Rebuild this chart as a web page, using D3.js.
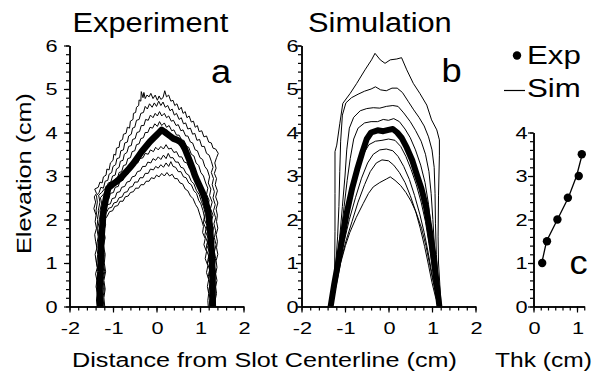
<!DOCTYPE html>
<html><head><meta charset="utf-8">
<script src="https://cdn.jsdelivr.net/npm/d3@7"></script>
<style>
html,body{margin:0;padding:0;background:#fff;}
svg{display:block;}
text{font-family:'Liberation Sans',Arial,Helvetica,sans-serif;fill:#000;}
</style></head>
<body><svg id="chart" width="592" height="373"></svg>
<script>
// ---------- Panel a: experimental profiles (x cm, elevation cm) ----------
const expThick = [[-1.30,0],[-1.31,0.4],[-1.29,0.8],[-1.28,1.2],[-1.26,1.64],[-1.22,2.18],[-1.16,2.5],[-1.11,2.72],[-1.02,2.8],[-0.92,2.87],[-0.82,2.96],[-0.73,3.06],[-0.63,3.17],[-0.53,3.29],[-0.44,3.42],[-0.34,3.56],[-0.25,3.67],[-0.15,3.79],[-0.07,3.87],[0.0,3.94],[0.06,4.0],[0.12,4.06],[0.18,4.02],[0.23,3.98],[0.31,3.92],[0.39,3.86],[0.47,3.83],[0.54,3.79],[0.6,3.72],[0.65,3.63],[0.71,3.48],[0.77,3.33],[0.83,3.17],[0.88,3.02],[0.94,2.88],[1.0,2.75],[1.06,2.62],[1.11,2.48],[1.15,2.33],[1.19,2.18],[1.21,1.98],[1.23,1.79],[1.25,1.52],[1.27,1.26],[1.28,0.95],[1.29,0.65],[1.29,0.3],[1.29,0]];
const exp1 = [[-1.36,0],[-1.38,0.15],[-1.35,0.3],[-1.39,0.45],[-1.37,0.6],[-1.4,0.75],[-1.36,0.9],[-1.39,1.05],[-1.41,1.2],[-1.37,1.35],[-1.4,1.5],[-1.42,1.65],[-1.38,1.8],[-1.41,1.95],[-1.39,2.1],[-1.44,2.25],[-1.4,2.4],[-1.43,2.52],[-1.38,2.6],[-1.42,2.7],[-1.34,2.74],[-1.3,2.86],[-1.25,2.84],[-1.22,2.98],[-1.16,3.02],[-1.14,3.16],[-1.09,3.14],[-1.06,3.3],[-1.0,3.36],[-0.98,3.5],[-0.94,3.48],[-0.92,3.64],[-0.86,3.66],[-0.84,3.8],[-0.78,3.84],[-0.76,3.96],[-0.7,3.98],[-0.67,4.12],[-0.62,4.1],[-0.6,4.26],[-0.54,4.3],[-0.53,4.44],[-0.48,4.46],[-0.46,4.58],[-0.41,4.62],[-0.4,4.75],[-0.36,4.72],[-0.35,4.94],[-0.31,4.8],[-0.29,4.92],[-0.26,4.78],[-0.22,4.86],[-0.17,4.82],[-0.13,4.9],[-0.08,4.78],[-0.03,4.86],[0.02,4.74],[0.06,4.84],[0.1,4.76],[0.15,4.8],[0.19,4.96],[0.23,4.82],[0.28,4.86],[0.33,4.72],[0.38,4.74],[0.42,4.62],[0.47,4.66],[0.52,4.52],[0.57,4.58],[0.61,4.44],[0.66,4.48],[0.7,4.34],[0.75,4.38],[0.8,4.24],[0.85,4.26],[0.89,4.12],[0.94,4.16],[0.98,4.02],[1.04,4.04],[1.09,3.9],[1.15,3.92],[1.2,3.78],[1.26,3.76],[1.3,3.64],[1.36,3.62],[1.42,3.52],[1.38,3.42],[1.34,3.3],[1.37,3.18],[1.33,3.06],[1.38,2.94],[1.35,2.8],[1.4,2.66],[1.36,2.52],[1.41,2.38],[1.37,2.24],[1.4,2.1],[1.38,1.95],[1.41,1.8],[1.37,1.65],[1.4,1.5],[1.38,1.35],[1.41,1.2],[1.37,1.05],[1.39,0.9],[1.36,0.75],[1.39,0.6],[1.36,0.45],[1.38,0.3],[1.35,0.15],[1.36,0]];
const exp2 = [[-1.34,0],[-1.36,0.2],[-1.33,0.4],[-1.37,0.6],[-1.34,0.8],[-1.38,1.0],[-1.35,1.2],[-1.38,1.4],[-1.34,1.6],[-1.37,1.8],[-1.35,2.0],[-1.39,2.2],[-1.36,2.4],[-1.38,2.55],[-1.32,2.62],[-1.28,2.74],[-1.22,2.72],[-1.18,2.88],[-1.12,2.9],[-1.09,3.04],[-1.03,3.08],[-1.0,3.22],[-0.94,3.26],[-0.91,3.4],[-0.85,3.42],[-0.82,3.58],[-0.76,3.6],[-0.73,3.76],[-0.67,3.78],[-0.64,3.92],[-0.58,3.96],[-0.55,4.1],[-0.5,4.12],[-0.46,4.28],[-0.4,4.3],[-0.36,4.44],[-0.3,4.46],[-0.26,4.6],[-0.21,4.54],[-0.16,4.66],[-0.1,4.58],[-0.05,4.68],[0.0,4.6],[0.05,4.72],[0.1,4.62],[0.15,4.7],[0.2,4.58],[0.26,4.62],[0.31,4.5],[0.36,4.54],[0.41,4.4],[0.46,4.44],[0.52,4.3],[0.57,4.34],[0.62,4.2],[0.67,4.22],[0.72,4.08],[0.78,4.1],[0.83,3.96],[0.88,3.98],[0.93,3.82],[0.99,3.84],[1.04,3.68],[1.1,3.68],[1.15,3.52],[1.21,3.48],[1.26,3.34],[1.3,3.2],[1.26,3.08],[1.31,2.94],[1.28,2.8],[1.33,2.64],[1.3,2.5],[1.35,2.34],[1.31,2.2],[1.36,2.04],[1.32,1.9],[1.36,1.74],[1.33,1.58],[1.37,1.42],[1.33,1.26],[1.36,1.1],[1.33,0.94],[1.36,0.78],[1.33,0.62],[1.35,0.46],[1.32,0.3],[1.34,0.14],[1.34,0]];
const exp3 = [[-1.32,0],[-1.34,0.2],[-1.31,0.4],[-1.34,0.6],[-1.3,0.8],[-1.33,1.0],[-1.31,1.2],[-1.35,1.4],[-1.32,1.6],[-1.35,1.8],[-1.31,2.0],[-1.34,2.2],[-1.3,2.4],[-1.33,2.56],[-1.26,2.62],[-1.2,2.7],[-1.15,2.68],[-1.11,2.84],[-1.05,2.86],[-1.01,3.0],[-0.95,3.02],[-0.92,3.16],[-0.86,3.2],[-0.83,3.34],[-0.77,3.36],[-0.74,3.5],[-0.68,3.54],[-0.64,3.68],[-0.58,3.7],[-0.55,3.84],[-0.49,3.86],[-0.45,4.0],[-0.39,4.02],[-0.35,4.16],[-0.29,4.16],[-0.25,4.3],[-0.19,4.28],[-0.14,4.4],[-0.08,4.34],[-0.03,4.44],[0.02,4.38],[0.07,4.48],[0.12,4.38],[0.18,4.44],[0.23,4.34],[0.28,4.38],[0.34,4.26],[0.39,4.28],[0.45,4.16],[0.5,4.18],[0.56,4.04],[0.61,4.06],[0.67,3.92],[0.72,3.92],[0.78,3.78],[0.83,3.76],[0.89,3.6],[0.94,3.58],[1.0,3.42],[1.06,3.38],[1.11,3.22],[1.17,3.14],[1.22,2.98],[1.19,2.84],[1.25,2.7],[1.22,2.55],[1.28,2.4],[1.24,2.25],[1.3,2.1],[1.26,1.95],[1.31,1.8],[1.28,1.64],[1.32,1.48],[1.29,1.32],[1.33,1.16],[1.3,1.0],[1.33,0.84],[1.3,0.68],[1.33,0.52],[1.3,0.36],[1.32,0.2],[1.31,0]];
const exp4 = [[-1.29,0],[-1.31,0.2],[-1.28,0.4],[-1.31,0.6],[-1.27,0.8],[-1.3,1.0],[-1.28,1.2],[-1.32,1.4],[-1.28,1.6],[-1.31,1.8],[-1.27,2.0],[-1.3,2.2],[-1.26,2.38],[-1.29,2.5],[-1.22,2.58],[-1.16,2.64],[-1.11,2.62],[-1.07,2.76],[-1.0,2.8],[-0.96,2.92],[-0.9,2.94],[-0.86,3.08],[-0.8,3.1],[-0.76,3.24],[-0.7,3.26],[-0.66,3.4],[-0.6,3.42],[-0.56,3.56],[-0.5,3.58],[-0.46,3.72],[-0.4,3.74],[-0.36,3.86],[-0.3,3.88],[-0.26,4.0],[-0.2,4.0],[-0.15,4.12],[-0.09,4.1],[-0.04,4.2],[0.02,4.14],[0.07,4.25],[0.12,4.16],[0.18,4.22],[0.23,4.12],[0.29,4.16],[0.35,4.04],[0.4,4.06],[0.46,3.94],[0.52,3.94],[0.58,3.82],[0.63,3.82],[0.69,3.68],[0.74,3.66],[0.8,3.5],[0.86,3.46],[0.91,3.3],[0.97,3.24],[1.02,3.08],[1.08,3.0],[1.13,2.84],[1.18,2.72],[1.15,2.58],[1.21,2.44],[1.18,2.3],[1.24,2.14],[1.2,2.0],[1.26,1.84],[1.23,1.68],[1.28,1.52],[1.25,1.36],[1.29,1.2],[1.26,1.04],[1.3,0.88],[1.27,0.72],[1.3,0.56],[1.27,0.4],[1.3,0.22],[1.29,0]];
const exp5 = [[-1.26,0],[-1.28,0.2],[-1.25,0.4],[-1.28,0.6],[-1.24,0.8],[-1.27,1.0],[-1.25,1.2],[-1.29,1.4],[-1.25,1.6],[-1.28,1.8],[-1.24,2.0],[-1.27,2.18],[-1.21,2.3],[-1.17,2.44],[-1.1,2.46],[-1.06,2.6],[-0.99,2.62],[-0.95,2.74],[-0.88,2.76],[-0.84,2.88],[-0.77,2.9],[-0.73,3.02],[-0.66,3.04],[-0.62,3.14],[-0.55,3.18],[-0.5,3.28],[-0.43,3.3],[-0.38,3.4],[-0.31,3.42],[-0.26,3.52],[-0.19,3.5],[-0.14,3.6],[-0.07,3.56],[-0.02,3.66],[0.04,3.6],[0.1,3.68],[0.16,3.62],[0.22,3.72],[0.28,3.62],[0.34,3.64],[0.4,3.54],[0.46,3.56],[0.52,3.44],[0.58,3.44],[0.64,3.32],[0.7,3.3],[0.76,3.16],[0.82,3.12],[0.88,2.96],[0.94,2.9],[1.0,2.74],[1.06,2.66],[1.11,2.5],[1.16,2.38],[1.13,2.24],[1.19,2.1],[1.16,1.96],[1.22,1.8],[1.19,1.64],[1.25,1.48],[1.22,1.32],[1.26,1.16],[1.23,1.0],[1.27,0.84],[1.24,0.68],[1.28,0.52],[1.25,0.36],[1.27,0.18],[1.26,0]];
const exp6 = [[-1.23,0],[-1.26,0.2],[-1.22,0.4],[-1.25,0.6],[-1.21,0.8],[-1.24,1.0],[-1.22,1.2],[-1.26,1.4],[-1.22,1.6],[-1.25,1.8],[-1.21,1.98],[-1.24,2.12],[-1.18,2.22],[-1.13,2.34],[-1.06,2.36],[-1.02,2.48],[-0.95,2.5],[-0.91,2.62],[-0.84,2.64],[-0.8,2.74],[-0.73,2.76],[-0.68,2.86],[-0.61,2.88],[-0.56,2.98],[-0.49,3.0],[-0.44,3.1],[-0.37,3.12],[-0.32,3.22],[-0.25,3.22],[-0.2,3.32],[-0.13,3.3],[-0.08,3.4],[-0.02,3.36],[0.04,3.44],[0.1,3.38],[0.16,3.48],[0.22,3.4],[0.27,3.52],[0.32,3.42],[0.38,3.42],[0.44,3.32],[0.5,3.32],[0.56,3.2],[0.62,3.18],[0.68,3.06],[0.74,3.02],[0.8,2.88],[0.86,2.82],[0.92,2.66],[0.98,2.58],[1.03,2.42],[1.08,2.3],[1.12,2.14],[1.1,2.0],[1.16,1.86],[1.13,1.72],[1.19,1.56],[1.16,1.4],[1.22,1.24],[1.19,1.08],[1.24,0.92],[1.21,0.76],[1.25,0.6],[1.22,0.44],[1.25,0.26],[1.23,0.1],[1.24,0]];
const exp7 = [[-1.21,0],[-1.23,0.2],[-1.2,0.4],[-1.23,0.6],[-1.19,0.8],[-1.22,1.0],[-1.2,1.2],[-1.24,1.4],[-1.2,1.6],[-1.23,1.78],[-1.19,1.94],[-1.21,2.06],[-1.15,2.16],[-1.1,2.26],[-1.03,2.28],[-0.98,2.38],[-0.91,2.4],[-0.86,2.5],[-0.79,2.52],[-0.74,2.62],[-0.67,2.64],[-0.62,2.74],[-0.55,2.76],[-0.5,2.86],[-0.43,2.86],[-0.38,2.96],[-0.31,2.96],[-0.26,3.06],[-0.19,3.06],[-0.14,3.16],[-0.07,3.14],[-0.02,3.22],[0.04,3.18],[0.1,3.26],[0.16,3.2],[0.22,3.3],[0.28,3.22],[0.33,3.33],[0.38,3.22],[0.44,3.2],[0.5,3.1],[0.56,3.1],[0.62,2.98],[0.68,2.96],[0.74,2.84],[0.8,2.8],[0.86,2.66],[0.92,2.6],[0.97,2.44],[1.02,2.36],[1.07,2.2],[1.1,2.06],[1.08,1.92],[1.14,1.78],[1.11,1.64],[1.17,1.48],[1.14,1.32],[1.2,1.16],[1.17,1.0],[1.22,0.84],[1.19,0.68],[1.23,0.52],[1.2,0.36],[1.23,0.18],[1.21,0]];
const exp8 = [[-1.19,0],[-1.21,0.2],[-1.18,0.4],[-1.21,0.6],[-1.17,0.8],[-1.2,1.0],[-1.18,1.2],[-1.22,1.4],[-1.18,1.58],[-1.21,1.74],[-1.17,1.88],[-1.19,2.0],[-1.13,2.08],[-1.08,2.18],[-1.01,2.2],[-0.96,2.3],[-0.89,2.32],[-0.84,2.42],[-0.77,2.42],[-0.72,2.52],[-0.65,2.54],[-0.6,2.62],[-0.53,2.64],[-0.48,2.72],[-0.41,2.72],[-0.36,2.8],[-0.29,2.8],[-0.24,2.88],[-0.17,2.88],[-0.12,2.96],[-0.05,2.94],[0.0,3.02],[0.06,2.98],[0.12,3.06],[0.18,3.0],[0.24,3.08],[0.3,3.0],[0.36,3.04],[0.42,2.94],[0.48,2.94],[0.54,2.84],[0.6,2.82],[0.66,2.7],[0.72,2.66],[0.78,2.54],[0.84,2.48],[0.9,2.34],[0.95,2.26],[1.0,2.1],[1.04,1.98],[1.08,1.84],[1.06,1.7],[1.12,1.56],[1.09,1.42],[1.15,1.26],[1.12,1.1],[1.18,0.94],[1.15,0.78],[1.2,0.62],[1.17,0.46],[1.2,0.3],[1.18,0.14],[1.19,0]];

// ---------- Panel b: simulated profiles ----------
const simThick = [[-1.33,0],[-1.25,0.5],[-1.16,1.0],[-1.06,1.6],[-0.95,2.2],[-0.84,2.7],[-0.72,3.15],[-0.6,3.55],[-0.5,3.85],[-0.4,4.0],[-0.25,4.05],[-0.12,4.03],[0.0,4.06],[0.1,4.08],[0.2,4.0],[0.3,3.88],[0.42,3.65],[0.55,3.35],[0.66,3.0],[0.76,2.7],[0.86,2.3],[0.95,1.75],[1.03,1.2],[1.1,0.6],[1.17,0]];
const sim1 = [[-1.29,0],[-1.26,0.3],[-1.24,0.65],[-1.23,1.72],[-1.23,2.6],[-1.23,3.56],[-1.19,3.71],[-1.12,4.2],[-1.05,4.67],[-0.88,4.9],[-0.73,5.13],[-0.54,5.44],[-0.39,5.67],[-0.31,5.82],[-0.19,5.67],[-0.08,5.59],[0.04,5.67],[0.19,5.69],[0.3,5.72],[0.42,5.44],[0.57,5.13],[0.72,4.9],[0.88,4.63],[0.99,4.29],[1.11,4.06],[1.17,3.83],[1.17,3.48],[1.15,2.56],[1.14,1.6],[1.15,1.0],[1.18,0.5],[1.21,0]];
const sim2 = [[-1.29,0],[-1.25,0.5],[-1.21,1.0],[-1.17,1.6],[-1.14,2.3],[-1.12,3.1],[-1.1,3.8],[-1.06,4.4],[-0.98,4.68],[-0.85,4.8],[-0.7,4.88],[-0.55,4.95],[-0.4,5.0],[-0.3,5.05],[-0.18,4.98],[-0.05,4.96],[0.08,5.02],[0.2,5.02],[0.32,4.92],[0.45,4.72],[0.58,4.52],[0.7,4.35],[0.82,4.15],[0.92,3.9],[1.0,3.6],[1.05,3.2],[1.07,2.6],[1.08,1.9],[1.1,1.2],[1.14,0.6],[1.19,0]];
const sim3 = [[-1.29,0],[-1.24,0.5],[-1.19,1.0],[-1.12,1.6],[-1.06,2.3],[-1.0,3.0],[-0.96,3.6],[-0.9,4.1],[-0.8,4.35],[-0.65,4.5],[-0.5,4.55],[-0.35,4.57],[-0.2,4.56],[-0.05,4.6],[0.1,4.62],[0.22,4.6],[0.35,4.45],[0.5,4.25],[0.62,4.05],[0.75,3.8],[0.85,3.5],[0.93,3.1],[0.98,2.6],[1.02,2.0],[1.06,1.3],[1.11,0.6],[1.18,0]];
const sim4 = [[-1.3,0],[-1.24,0.5],[-1.18,1.0],[-1.1,1.6],[-1.02,2.3],[-0.95,2.9],[-0.88,3.4],[-0.8,3.85],[-0.7,4.1],[-0.55,4.22],[-0.4,4.25],[-0.25,4.25],[-0.12,4.3],[0.0,4.28],[0.12,4.32],[0.25,4.25],[0.38,4.08],[0.5,3.88],[0.62,3.6],[0.74,3.25],[0.84,2.85],[0.92,2.35],[0.98,1.8],[1.04,1.2],[1.1,0.6],[1.17,0]];
const sim5 = [[-1.31,0],[-1.23,0.5],[-1.15,1.0],[-1.05,1.5],[-0.94,2.05],[-0.82,2.6],[-0.7,3.1],[-0.58,3.5],[-0.45,3.72],[-0.3,3.8],[-0.15,3.82],[0.0,3.85],[0.15,3.82],[0.28,3.68],[0.4,3.45],[0.52,3.15],[0.64,2.8],[0.75,2.4],[0.85,1.95],[0.93,1.45],[1.0,0.95],[1.07,0.5],[1.16,0]];
const sim6 = [[-1.31,0],[-1.22,0.5],[-1.13,1.0],[-1.02,1.5],[-0.9,2.0],[-0.76,2.5],[-0.62,2.95],[-0.48,3.3],[-0.35,3.5],[-0.2,3.6],[-0.05,3.62],[0.1,3.58],[0.22,3.45],[0.35,3.22],[0.48,2.92],[0.6,2.55],[0.72,2.12],[0.82,1.7],[0.91,1.25],[0.99,0.8],[1.07,0.4],[1.16,0]];
const sim7 = [[-1.31,0],[-1.21,0.5],[-1.11,1.0],[-0.98,1.5],[-0.84,1.95],[-0.7,2.4],[-0.55,2.8],[-0.42,3.1],[-0.28,3.3],[-0.15,3.37],[0.0,3.35],[0.12,3.25],[0.25,3.08],[0.38,2.85],[0.5,2.55],[0.62,2.2],[0.73,1.8],[0.83,1.38],[0.92,0.95],[1.0,0.55],[1.08,0.22],[1.16,0]];
const sim8 = [[-1.31,0],[-1.2,0.5],[-1.1,1.0],[-0.99,1.4],[-0.89,1.7],[-0.74,2.05],[-0.58,2.37],[-0.46,2.6],[-0.35,2.75],[-0.2,2.85],[-0.05,2.93],[0.04,2.98],[0.15,2.9],[0.28,2.78],[0.4,2.62],[0.52,2.42],[0.64,2.15],[0.76,1.8],[0.86,1.4],[0.95,0.95],[1.04,0.5],[1.11,0.18],[1.16,0]];

// ---------- Panel c: peak elevation vs thickness ----------
const thkExp = [0.2, 0.31, 0.55, 0.79, 1.04, 1.11];
const elevExp = [1.0, 1.5, 2.0, 2.5, 3.0, 3.5];
const thkSim = [0.19, 0.3, 0.55, 0.8, 0.99, 1.12];
const elevSim = [1.0, 1.5, 2.0, 2.5, 3.0, 3.5];

// ---------- Ticks and labels ----------
const profXTicks = [-2, -1, 0, 1, 2];
const profXTickLabels = ["-2", "-1", "0", "1", "2"];
const profYTicks = [0, 1, 2, 3, 4, 5, 6];
const profYTickLabels = ["0", "1", "2", "3", "4", "5", "6"];
const cXTicks = [0, 1];
const cXTickLabels = ["0", "1"];
const cYTicks = [0, 1, 2, 3, 4];
const cYTickLabels = ["0", "1", "2", "3", "4"];
const titles = ["Experiment", "Simulation"];
const panelLetters = ["a", "b", "c"];
const legendLabels = ["Exp", "Sim"];
const xLabelMain = "Distance from Slot Centerline (cm)";
const xLabelC = "Thk (cm)";
const yLabel = "Elevation (cm)";

// ---------- Drawing ----------
const svg = d3.select("#chart");
svg.append("rect").attr("width", 592).attr("height", 373).attr("fill", "#fff");

const xa = d3.scaleLinear().domain([-2, 2]).range([69.5, 243.5]);
const xb = d3.scaleLinear().domain([-2, 2]).range([301.5, 475.5]);
const yp = d3.scaleLinear().domain([0, 6]).range([306.5, 45.5]);
const xc = d3.scaleLinear().domain([0, 7 / 6]).range([533.5, 584.25]);
const yc = d3.scaleLinear().domain([0, 4]).range([306.5, 132.5]);

function txt(str, x, y, size, sx, anchor, rot) {
  svg.append("text")
    .attr("transform", `translate(${x},${y})` + (rot ? ` rotate(${rot})` : "") + ` scale(${sx},1)`)
    .attr("text-anchor", anchor)
    .style("font-size", size + "px")
    .text(str);
}

function minorVals(lo, hi, step) {
  const out = [];
  const n = Math.round((hi - lo) / step);
  for (let i = 0; i <= n; i++) out.push(lo + i * step);
  return out;
}

function drawAxes(xs, ys, xMajor, xMinorStep, yMajor, yMinorStep) {
  const g = svg.append("g");
  const [x0, x1] = xs.domain();
  const [y0, y1] = ys.domain();
  g.append("g").attr("transform", `translate(0,${ys(0)})`)
    .call(d3.axisBottom(xs).tickValues(minorVals(x0, x1, xMinorStep)).tickSize(4).tickSizeOuter(0).tickFormat(""));
  g.append("g").attr("transform", `translate(${xs(x0)},0)`)
    .call(d3.axisLeft(ys).tickValues(minorVals(y0, y1, yMinorStep)).tickSize(3.5).tickSizeOuter(0).tickFormat(""));
  g.append("g").attr("transform", `translate(0,${ys(0)})`)
    .call(d3.axisBottom(xs).tickValues(xMajor).tickSize(6).tickSizeOuter(0).tickFormat(""));
  g.append("g").attr("transform", `translate(${xs(x0)},0)`)
    .call(d3.axisLeft(ys).tickValues(yMajor).tickSize(5.5).tickSizeOuter(0).tickFormat(""));
  g.selectAll("path.domain").attr("stroke", "#000").attr("stroke-width", 1.5);
  g.selectAll(".tick line").attr("stroke", "#000").attr("stroke-width", 1.2);
}

drawAxes(xa, yp, profXTicks, 0.2, profYTicks, 0.2);
drawAxes(xb, yp, profXTicks, 0.2, profYTicks, 0.2);
drawAxes(xc, yc, cXTicks, 1 / 6, cYTicks, 0.2);

// tick labels
const TK = 17, TSX = 1.28;
profYTicks.forEach((v, i) => {
  txt(profYTickLabels[i], 57.5, yp(v) + 6.2, TK, TSX, "end");
  txt(profYTickLabels[i], 298.5, yp(v) + 6.2, TK, TSX, "end");
});
profXTicks.forEach((v, i) => {
  txt(profXTickLabels[i], xa(v) + 1, 333.5, TK, TSX, "middle");
  txt(profXTickLabels[i], xb(v) + 1, 333.5, TK, TSX, "middle");
});
cYTicks.forEach((v, i) => txt(cYTickLabels[i], 527.5, yc(v) + 6.2, TK, TSX, "end"));
cXTicks.forEach((v, i) => txt(cXTickLabels[i], xc(v) + 1, 333.5, TK, TSX, "middle"));

// profiles
const lineA = d3.line().x(d => xa(d[0])).y(d => yp(d[1]));
const lineB = d3.line().x(d => xb(d[0])).y(d => yp(d[1]));
const gA = svg.append("g");
[exp1, exp2, exp3, exp4, exp5, exp6, exp7, exp8].forEach(c =>
  gA.append("path").attr("d", lineA(c)).attr("fill", "none").attr("stroke", "#000").attr("stroke-width", 1).attr("stroke-linejoin", "round"));
gA.append("path").attr("d", lineA(expThick)).attr("fill", "none").attr("stroke", "#000").attr("stroke-width", 6.5).attr("stroke-linejoin", "round");

const gB = svg.append("g");
[sim1, sim2, sim3, sim4, sim5, sim6, sim7, sim8].forEach(c =>
  gB.append("path").attr("d", lineB(c)).attr("fill", "none").attr("stroke", "#000").attr("stroke-width", 1).attr("stroke-linejoin", "round"));
gB.append("path").attr("d", lineB(simThick)).attr("fill", "none").attr("stroke", "#000").attr("stroke-width", 6).attr("stroke-linejoin", "round");

// panel c
const simPts = thkSim.map((t, i) => [t, elevSim[i]]);
svg.append("path").attr("d", d3.line().x(d => xc(d[0])).y(d => yc(d[1]))(simPts))
  .attr("fill", "none").attr("stroke", "#000").attr("stroke-width", 1.3);
svg.append("g").selectAll("circle").data(thkExp.map((t, i) => [t, elevExp[i]])).join("circle")
  .attr("cx", d => xc(d[0])).attr("cy", d => yc(d[1])).attr("r", 4.2).attr("fill", "#000");

// legend
svg.append("circle").attr("cx", 517).attr("cy", 55.5).attr("r", 4.2).attr("fill", "#000");
txt(legendLabels[0], 527, 63.5, 25, 1.25, "start");
svg.append("line").attr("x1", 504).attr("x2", 525).attr("y1", 90.5).attr("y2", 90.5).attr("stroke", "#000").attr("stroke-width", 1.2);
txt(legendLabels[1], 527, 96.5, 25, 1.25, "start");

// titles & panel letters
txt(titles[0], 72.5, 31.5, 28, 1.1, "start");
txt(titles[1], 308, 31.5, 28, 1.1, "start");
txt(panelLetters[0], 211, 82.7, 33, 1.1, "start");
txt(panelLetters[1], 441.5, 81.7, 33, 1.1, "start");
txt(panelLetters[2], 569.5, 274, 33, 1.1, "start");

// axis labels
txt(xLabelMain, 72, 367, 21, 1.2, "start");
txt(xLabelC, 495, 367, 21, 1.17, "start");
txt(yLabel, 31, 173.5, 21, 1.2, "middle", -90);
</script>
</body></html>
